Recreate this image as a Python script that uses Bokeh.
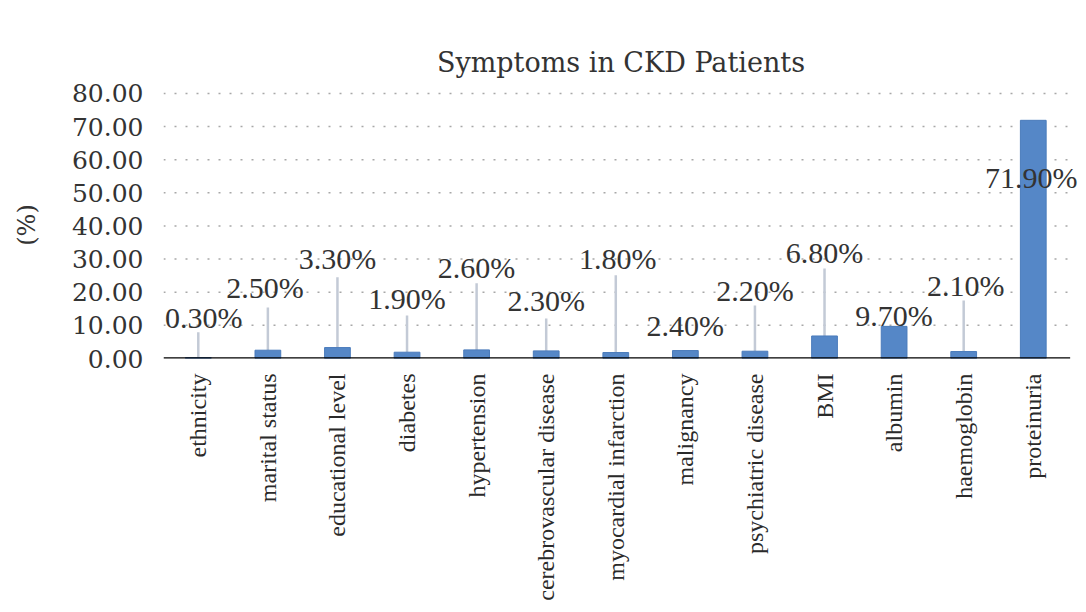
import math
from bokeh.plotting import figure
from bokeh.models import ColumnDataSource, FixedTicker, Range1d, PrintfTickFormatter, LabelSet
from bokeh.embed import file_html
from bokeh.resources import INLINE

# ---- data ----
categories = ["ethnicity", "marital status", "educational level", "diabetes",
              "hypertension", "cerebrovascular disease", "myocardial infarction",
              "malignancy", "psychiatric disease", "BMI", "albumin",
              "haemoglobin", "proteinuria"]
percent = [0.30, 2.50, 3.30, 1.90, 2.60, 2.30, 1.80, 2.40, 2.20, 6.80, 9.70, 2.10, 71.90]
y_ticks = [0, 10, 20, 30, 40, 50, 60, 70, 80]
title_text = "Symptoms in CKD Patients"
y_label = "(%)"

# ---- layout of data labels (data units) ----
label_y = [12.4, 21.5, 30.2, 18.1, 27.5, 17.5, 30.2, 10.0, 20.5, 32.0, 13.0, 22.0, 54.7]
label_dx = [0.08, -0.04, 0, 0, 0, 0, 0.03, 0, 0, 0, 0, 0.03, -0.03]
leader_top = [7.9, 15.4, 24.5, 13.0, 22.7, 12.1, 25.1, None, 16.0, 27.2, None, 17.5, None]

xs = list(range(len(categories)))
labels = ["%.2f%%" % v for v in percent]
lab_x = [x + d for x, d in zip(xs, label_dx)]

src = ColumnDataSource(dict(x=xs, top=percent, lx=lab_x, ly=label_y, lab=labels))

lx, l0, l1 = [], [], []
for i, (v, t) in enumerate(zip(percent, leader_top)):
    if t is not None:
        lx.append(i); l0.append(v); l1.append(t)
lsrc = ColumnDataSource(dict(x=lx, y0=l0, y1=l1))

n = len(categories)
x_start = -0.5
x_end = n - 0.47
p = figure(width=1078, height=604,
           x_range=Range1d(x_start, n - 0.35), y_range=Range1d(0, 80.6),
           output_backend="svg", toolbar_location=None,
           min_border_left=163, min_border_top=91, min_border_bottom=246,
           min_border_right=0)
p.background_fill_color = "white"
p.border_fill_color = "white"
p.outline_line_color = None

p.title.text = title_text
p.title.align = "center"
p.title.text_font = "DejaVu Serif"
p.title.text_font_size = "27px"
p.title.text_font_style = "normal"
p.title.text_color = "#333333"
p.title.standoff = 28
p.title.offset = 5

# grid lines (drawn as segments so they span only the category area)
p.xgrid.grid_line_color = None
p.ygrid.grid_line_color = None
grid_ticks = y_ticks[1:]
p.segment(x0=[x_start] * len(grid_ticks), y0=grid_ticks,
          x1=[x_end] * len(grid_ticks), y1=grid_ticks,
          line_color="#a8a8a8", line_dash="2 9", line_width=1.5)

# leader lines
p.segment(x0="x", y0="y0", x1="x", y1="y1", source=lsrc,
          line_color="#c3cad6", line_width=2.5)

# bars
p.vbar(x="x", top="top", bottom=0, width=0.37, source=src,
       fill_color="#5587c7", line_color="#4a7bbb", line_width=1)

# baseline
p.segment(x0=[x_start], y0=[0], x1=[x_end], y1=[0], line_color="black", line_width=2.5)

# data labels
p.add_layout(LabelSet(x="lx", y="ly", text="lab", source=src, text_align="center",
                      text_baseline="middle", text_font="DejaVu Serif",
                      text_font_size="30px", text_color="#333333"))

# x axis
p.xaxis.ticker = FixedTicker(ticks=xs)
p.xaxis.major_label_overrides = {i: c for i, c in enumerate(categories)}
p.xaxis.major_label_orientation = math.pi / 2
p.xaxis.axis_line_color = None
p.xaxis.major_tick_line_color = None
p.xaxis.minor_tick_line_color = None
p.xaxis.major_label_text_font = "Liberation Serif"
p.xaxis.major_label_text_font_size = "24px"
p.xaxis.major_label_text_color = "#2a2a2a"
p.xaxis.major_label_standoff = 9

# y axis
p.yaxis.ticker = FixedTicker(ticks=y_ticks)
p.yaxis.formatter = PrintfTickFormatter(format="%.2f")
p.yaxis.axis_line_color = None
p.yaxis.major_tick_line_color = None
p.yaxis.minor_tick_line_color = None
p.yaxis.major_label_text_font = "DejaVu Serif"
p.yaxis.major_label_text_font_size = "25px"
p.yaxis.major_label_text_color = "#333333"
p.yaxis.major_label_standoff = 14
p.yaxis.axis_label = y_label
p.yaxis.axis_label_text_font = "DejaVu Serif"
p.yaxis.axis_label_text_font_size = "24px"
p.yaxis.axis_label_text_font_style = "normal"
p.yaxis.axis_label_text_color = "#333333"
p.yaxis.axis_label_standoff = 28

open("out.html", "w").write(file_html(p, INLINE))
